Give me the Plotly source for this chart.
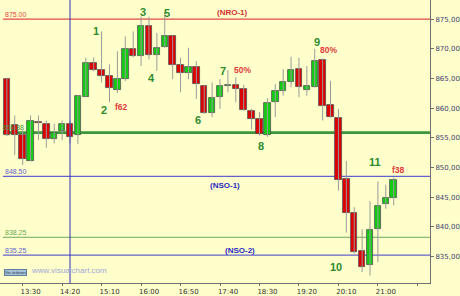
import plotly.graph_objects as go

# ---- data (10-minute candles, index 0..49) ----
opens  = [864.88, 857.10, 855.55, 851.17, 857.67, 857.38, 854.88, 856.10, 857.38, 855.43,
          861.93, 867.67, 866.43, 865.43, 863.10, 864.88, 870.00, 868.77, 873.88, 868.88,
          870.27, 872.22, 867.22, 866.00, 866.93, 863.67, 859.22, 861.83, 863.67, 863.88,
          863.22, 859.60, 858.22, 855.43, 861.00, 862.93, 864.43, 866.67, 863.05, 863.50,
          868.10, 860.55, 858.38, 848.10, 842.38, 835.99, 833.60, 839.60, 843.88, 844.88]
highs  = [865.05, 858.77, 856.27, 858.77, 858.77, 857.93, 857.38, 857.93, 857.88, 862.22,
          868.50, 868.55, 872.93, 867.38, 869.60, 872.10, 872.93, 875.43, 875.43, 872.67,
          876.27, 872.22, 868.50, 870.17, 867.93, 863.77, 864.33, 864.88, 866.38, 865.17,
          863.93, 859.88, 859.33, 861.67, 864.05, 866.55, 868.67, 868.50, 867.10, 870.00,
          868.38, 864.60, 859.88, 851.10, 843.33, 839.60, 844.33, 847.67, 847.10, 848.33]
lows   = [855.30, 852.10, 850.43, 851.05, 854.60, 853.33, 854.05, 854.60, 854.05, 853.93,
          861.93, 866.22, 864.33, 861.00, 862.55, 864.55, 868.55, 867.10, 868.22, 866.27,
          870.17, 864.88, 862.67, 864.88, 861.55, 859.05, 858.50, 859.88, 862.67, 861.00,
          859.55, 856.38, 855.38, 855.17, 858.50, 862.10, 863.50, 861.83, 862.10, 863.50,
          857.93, 858.40, 846.10, 839.05, 835.55, 832.38, 831.80, 834.05, 843.05, 843.60]
closes = [855.43, 855.55, 851.43, 857.88, 857.43, 854.88, 855.88, 857.38, 855.17, 862.10,
          867.67, 866.43, 865.43, 863.33, 864.88, 870.00, 868.77, 873.88, 868.88, 870.17,
          872.22, 867.22, 866.00, 866.93, 864.05, 859.22, 861.72, 863.67, 863.93, 863.22,
          859.72, 858.22, 855.60, 860.88, 862.93, 864.43, 866.43, 863.50, 863.67, 867.93,
          860.43, 858.50, 847.93, 842.38, 835.72, 833.33, 839.55, 843.60, 844.88, 847.83]

tick_idx    = [2, 7, 12, 17, 22, 27, 32, 37, 42, 47, 52]
tick_labels = ["13:30", "14:20", "15:10", "16:00", "16:50", "17:40", "18:30", "19:20", "20:10", "21:00", ""]

levels       = [875.00, 855.88, 848.50, 838.25, 835.25]
level_texts  = ["875.00", "855.88", "848.50", "838.25", "835.25"]
level_colors = ["#E04848", "#3C963C", "#6262CC", "#6AAA5A", "#6262CC"]
level_widths = [1.2, 2.6, 1.3, 1.0, 1.3]

named_levels = [("(NRO-1)", 28.6, 876.05, "#D03030"),
                ("(NSO-1)", 27.6, 846.90, "#2828C0"),
                ("(NSO-2)", 29.5, 836.10, "#2828C0")]

wave_labels = [("1", 11.3, 873.05, "g"), ("2", 12.3, 859.72, "g"), ("f62", 14.55, 860.22, "r"),
               ("3", 17.3, 876.22, "g"), ("4", 18.3, 865.05, "g"), ("5", 20.3, 876.05, "g"),
               ("6", 24.25, 858.05, "g"), ("7", 27.36, 866.22, "g"), ("50%", 29.85, 866.38, "r"),
               ("8", 32.2, 853.55, "g"), ("9", 39.3, 871.22, "g"), ("80%", 40.8, 869.72, "r"),
               ("10", 41.67, 833.22, "g"), ("11", 46.64, 850.88, "g"), ("f38", 49.6, 849.55, "r")]

marker_idx = 8  # vertical blue line

BG = "#FFFFCC"
GREEN = "#14CC14"
RED = "#DD0000"

n = len(opens)
xs = list(range(n))

fig = go.Figure()

# level label for the green level, drawn under the candles
fig.add_trace(go.Scatter(x=[-0.55], y=[levels[1] + 0.1], mode="text", text=[level_texts[1]],
                         textposition="top right",
                         textfont=dict(size=7, color=level_colors[1], family="Liberation Sans"),
                         hoverinfo="skip", showlegend=False))

# wicks
wx, wy = [], []
for i in xs:
    wx += [i, i, None]
    wy += [lows[i], highs[i], None]
fig.add_trace(go.Scatter(x=wx, y=wy, mode="lines", line=dict(color="#9A9A9A", width=1),
                         hoverinfo="skip", showlegend=False))

# bodies
base = [min(o, c) for o, c in zip(opens, closes)]
height = [max(abs(c - o), 0.12) for o, c in zip(opens, closes)]
colors = [GREEN if c >= o else RED for o, c in zip(opens, closes)]
fig.add_trace(go.Bar(x=xs, y=height, base=base, width=0.82,
                     marker=dict(color=colors, line=dict(color="#505050", width=0.8)),
                     hoverinfo="skip", showlegend=False))

shapes = []
for v, col, w in zip(levels, level_colors, level_widths):
    shapes.append(dict(type="line", xref="x", yref="y", x0=-0.5, x1=53.6, y0=v, y1=v,
                       line=dict(color=col, width=w), layer="below"))
shapes.append(dict(type="line", xref="x", yref="paper", x0=marker_idx, x1=marker_idx, y0=0, y1=1,
                   line=dict(color="#3030B8", width=1), layer="above"))

annotations = []
for v, t, col in zip(levels, level_texts, level_colors):
    if t == level_texts[1]:
        continue
    annotations.append(dict(x=-0.55, y=v, xref="x", yref="y", text=t, showarrow=False,
                            xanchor="left", yanchor="bottom", yshift=-1,
                            font=dict(size=7, color=col, family="Liberation Sans")))
for t, x, y, col in named_levels:
    annotations.append(dict(x=x, y=y, xref="x", yref="y", text="<b>%s</b>" % t, showarrow=False,
                            font=dict(size=8, color=col, family="Liberation Sans")))
for t, x, y, c in wave_labels:
    if c == "g":
        f = dict(size=11, color="#2E8B2E", family="Liberation Sans")
    else:
        f = dict(size=8.5, color="#E03A3A", family="Liberation Sans")
    annotations.append(dict(x=x, y=y, xref="x", yref="y", text="<b>%s</b>" % t, showarrow=False, font=f))

annotations.append(dict(x=0.009, y=0.025, xref="paper", yref="paper", text="Sin órdenes",
                        showarrow=False, xanchor="left", yanchor="bottom",
                        font=dict(size=4, color="#304060", family="Liberation Sans"),
                        bgcolor="#A8C0D8", bordercolor="#6080A0", borderwidth=1, borderpad=0))
annotations.append(dict(x=0.068, y=0.02, xref="paper", yref="paper", text="www.visualchart.com",
                        showarrow=False, xanchor="left", yanchor="bottom",
                        font=dict(size=8, color="#A0A8D8", family="Liberation Sans")))

fig.update_layout(
    width=460, height=296,
    margin=dict(l=0, r=22, t=0, b=10),
    paper_bgcolor=BG, plot_bgcolor=BG,
    separators=",.",
    bargap=0, showlegend=False,
    shapes=shapes, annotations=annotations,
    xaxis=dict(range=[-0.87, 53.6], tickvals=tick_idx, ticktext=tick_labels,
               ticks="outside", ticklen=2, tickcolor="#707070", showgrid=False, zeroline=False,
               showline=True, linecolor="#707070", linewidth=1, ticklabelshift=8,
               tickfont=dict(size=7, color="#333333", family="DejaVu Sans"), fixedrange=True),
    yaxis=dict(range=[830.55, 878.217], side="right", tickvals=[835, 840, 845, 850, 855, 860, 865, 870, 875],
               tickformat=".2f", ticks="outside", ticklen=3, tickcolor="#707070", showgrid=False,
               zeroline=False, showline=True, linecolor="#707070", linewidth=1,
               tickfont=dict(size=7, color="#404070", family="DejaVu Sans"), fixedrange=True),
)

fig.write_html("out.html", config={"displayModeBar": False})
